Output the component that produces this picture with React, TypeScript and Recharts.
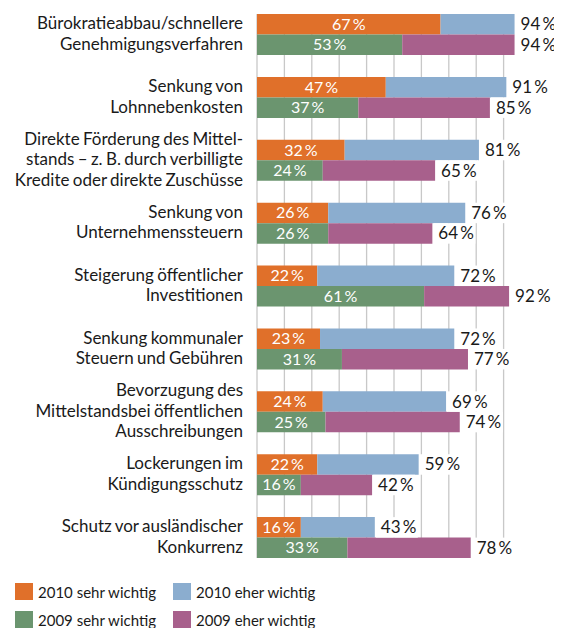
import { BarChart, Bar, XAxis, YAxis, CartesianGrid, LabelList } from 'recharts'

const categories = [
  'Bürokratieabbau/schnellere\nGenehmigungsverfahren',
  'Senkung von\nLohnnebenkosten',
  'Direkte Förderung des Mittel-\nstands – z. B. durch verbilligte\nKredite oder direkte Zuschüsse',
  'Senkung von\nUnternehmenssteuern',
  'Steigerung öffentlicher\nInvestitionen',
  'Senkung kommunaler\nSteuern und Gebühren',
  'Bevorzugung des\nMittelstandsbei öffentlichen\nAusschreibungen',
  'Lockerungen im\nKündigungsschutz',
  'Schutz vor ausländischer\nKonkurrenz',
]

const sehr2010 = [67, 47, 32, 26, 22, 23, 24, 22, 16]
const total2010 = [94, 91, 81, 76, 72, 72, 69, 59, 43]
const sehr2009 = [53, 37, 24, 26, 61, 31, 25, 16, 33]
const total2009 = [94, 85, 65, 64, 92, 77, 74, 42, 78]

const gridTicks = [0, 10, 20, 30, 40, 50, 60, 70, 80, 90]

const ORANGE = '#e0702a'
const BLUE = '#8badcf'
const GREEN = '#6b956f'
const PURPLE = '#a8608c'
const TEXT = '#1a1a1a'
const FONT = 'Lato, "Open Sans", sans-serif'

const rows = categories.map((name, i) => ({
  name,
  sehr2010: sehr2010[i],
  eher2010: total2010[i] - sehr2010[i],
  total2010: total2010[i],
  sehr2009: sehr2009[i],
  eher2009: total2009[i] - sehr2009[i],
  total2009: total2009[i],
}))

const CHART_W = 554
const BAND = 62.85
const BAR = 20.5
const CHART_H = Math.round(BAND * categories.length)
const SIDE_GAP = (BAND - 2 * BAR) / 2

const pct = (v: number) => `${v}\u2009%`

function CategoryTick(props: any) {
  const { x, y, payload } = props
  const lines = String(payload.value).split('\n')
  const lh = 20.5
  return (
    <text
      x={x}
      y={y}
      textAnchor="end"
      fill={TEXT}
      fontFamily={FONT}
      fontSize={17}
      style={{ wordSpacing: '-1px' }}
    >
      {lines.map((l, i) => (
        <tspan key={i} x={x} y={y + (i - (lines.length - 1) / 2) * lh + 5}>
          {l}
        </tspan>
      ))}
    </text>
  )
}

function InnerLabel(props: any) {
  const { x, y, width, height, value } = props
  return (
    <text
      x={x + width / 2}
      y={y + height / 2 + 5.5}
      textAnchor="middle"
      fill="#fff"
      fontFamily={FONT}
      fontSize={16}
    >
      {pct(value)}
    </text>
  )
}

function TotalLabel(props: any) {
  const { x, y, width, height, value } = props
  const end = x + width
  return (
    <g>
      <rect x={end + 1} y={y} width={42} height={height} fill="#fff" />
      <text x={end + 6} y={y + height / 2 + 6} fill={TEXT} fontFamily={FONT} fontSize={17}>
        {pct(value)}
      </text>
    </g>
  )
}

const legendItems = [
  [
    { label: '2010 sehr wichtig', color: ORANGE },
    { label: '2010 eher wichtig', color: BLUE },
  ],
  [
    { label: '2009 sehr wichtig', color: GREEN },
    { label: '2009 eher wichtig', color: PURPLE },
  ],
]

export default function App() {
  return (
    <div style={{ width: CHART_W, fontFamily: FONT }}>
      <div style={{ marginTop: -5 }}>
        <BarChart
          width={CHART_W}
          height={CHART_H}
          data={rows}
          layout="vertical"
          margin={{ top: 0, right: 31, bottom: 0, left: 0 }}
          barGap={0}
          barSize={BAR}
        >
          <CartesianGrid
            horizontal={false}
            syncWithTicks
            stroke="#c8c8c8"
            strokeWidth={1.3}
            y={SIDE_GAP}
            height={CHART_H - 2 * SIDE_GAP}
          />
          <XAxis type="number" domain={[0, 100]} ticks={gridTicks} hide />
          <YAxis
            type="category"
            dataKey="name"
            width={249}
            axisLine={false}
            tickLine={false}
            tickSize={0}
            tickMargin={14}
            interval={0}
            tick={<CategoryTick />}
          />
          <Bar dataKey="sehr2010" stackId="a" fill={ORANGE} isAnimationActive={false}>
            <LabelList dataKey="sehr2010" content={<InnerLabel />} />
          </Bar>
          <Bar dataKey="eher2010" stackId="a" fill={BLUE} isAnimationActive={false}>
            <LabelList dataKey="total2010" content={<TotalLabel />} />
          </Bar>
          <Bar dataKey="sehr2009" stackId="b" fill={GREEN} isAnimationActive={false}>
            <LabelList dataKey="sehr2009" content={<InnerLabel />} />
          </Bar>
          <Bar dataKey="eher2009" stackId="b" fill={PURPLE} isAnimationActive={false}>
            <LabelList dataKey="total2009" content={<TotalLabel />} />
          </Bar>
        </BarChart>
      </div>
      <div style={{ marginTop: 14 }}>
        {legendItems.map((row, r) => (
          <div key={r} style={{ display: 'flex', height: 17, marginBottom: 11 }}>
            {row.map((item) => (
              <div
                key={item.label}
                style={{ display: 'flex', alignItems: 'center', width: 151, marginLeft: 7 }}
              >
                <div style={{ width: 18, height: 17, background: item.color }} />
                <span style={{ marginLeft: 5, fontSize: 15, color: TEXT }}>{item.label}</span>
              </div>
            ))}
          </div>
        ))}
      </div>
    </div>
  )
}
